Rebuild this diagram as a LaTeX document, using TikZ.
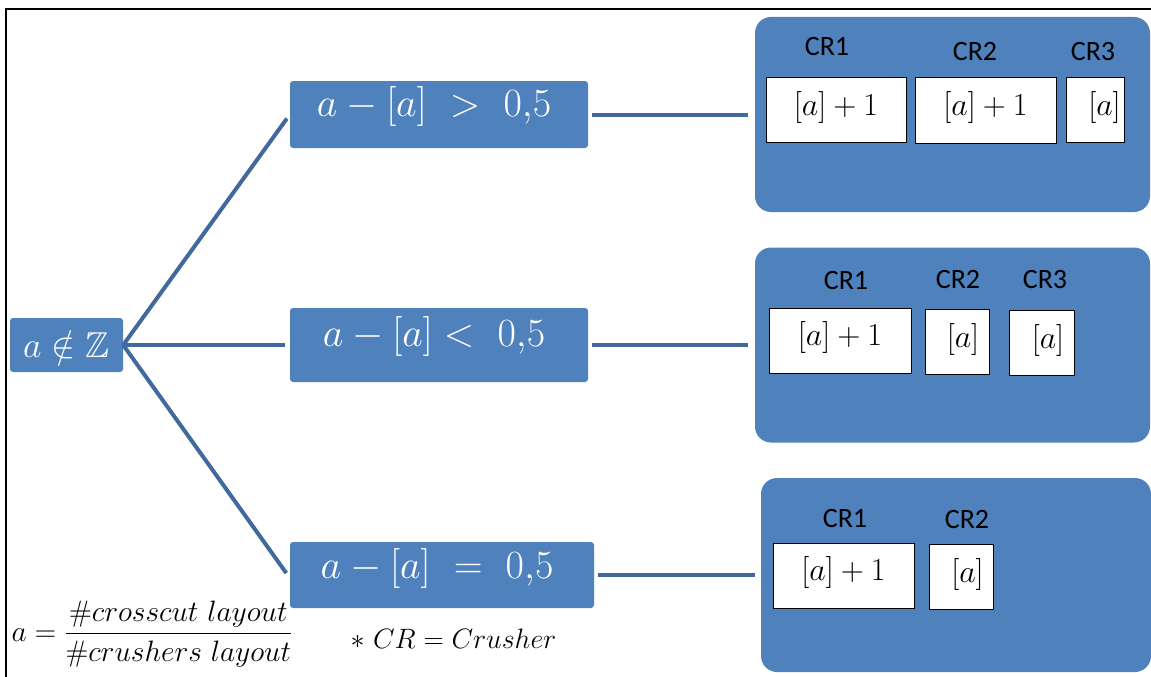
\RequirePackage{fix-cm}
\documentclass[tikz,border=0pt]{standalone}
\usepackage{amssymb}
\usepackage{fontspec}
\newfontfamily\crfont{Carlito}
\definecolor{boxblue}{HTML}{4F81BD}
\definecolor{linkblue}{HTML}{41699D}
\tikzset{
  bluebox/.style={draw=none, fill=boxblue, rounded corners=3pt, inner sep=0pt},
  groupbox/.style={draw=none, fill=boxblue, rounded corners=16pt, inner sep=0pt},
  cellbox/.style={draw=black, line width=1pt, fill=white, inner sep=0pt},
  bigmath/.style={text=white, inner sep=0pt, font=\fontsize{40}{44}\selectfont},
  cellmath/.style={inner sep=0pt, font=\fontsize{32}{36}\selectfont},
  crlabel/.style={inner sep=0pt, font=\crfont\fontsize{28}{32}\selectfont},
  link/.style={draw=linkblue, line width=4pt},
  note/.style={inner sep=0pt, font=\fontsize{29.5}{34}\selectfont}
}
\begin{document}
\begin{tikzpicture}[x=1pt, y=-1pt]
\useasboundingbox (0,0) rectangle (1151,677);
% page frame
\draw[line width=1.5pt] (6,677) -- (6,9) -- (1151,9);

% root condition
\node[bluebox, minimum width=113pt, minimum height=54pt, text=white,
      font=\fontsize{36}{40}\selectfont] (root) at (66.5,345) {$a\notin\mathbb{Z}$};

% three cases
\node[bluebox, minimum width=298pt, minimum height=67pt] (gt) at (439,114.5) {};
\node[bigmath] (gttext) at (434,107) {$a-[a]\ >\ 0{,}5$};
\node[bluebox, minimum width=298pt, minimum height=74pt] (lt) at (439,345) {};
\node[bigmath] (lttext) at (434,336.5) {$a-[a] <\ 0{,}5$};
\node[bluebox, minimum width=304pt, minimum height=66pt] (eq) at (442,575) {};
\node[bigmath] (eqtext) at (437,568.5) {$a-[a]\ =\ 0{,}5$};

% crusher groups
\node[groupbox, minimum width=395pt, minimum height=195pt] (g1) at (952.5,114.5) {};
\node[groupbox, minimum width=395pt, minimum height=195pt] (g2) at (952.5,345) {};
\node[groupbox, minimum width=390pt, minimum height=194pt] (g3) at (956,575) {};

% connectors
\draw[link, shorten >=5pt] (root.east) -- (gt.west);
\draw[link, shorten >=5pt] (root.east) -- (lt.west);
\draw[link, shorten >=6pt] (root.east) -- ([yshift=-3pt]eq.west);
\draw[link, shorten <=4pt, shorten >=7pt] (gt.east) -- (g1.west);
\draw[link, shorten <=4pt, shorten >=7pt] (lt.east) -- (g2.west);
\draw[link, shorten <=4pt, shorten >=6pt] (eq.east) -- (g3.west);

% group 1: a - [a] > 0,5
\node[crlabel] (g1l1) at (827,47) {CR1};
\node[crlabel] (g1l2) at (975,52) {CR2};
\node[crlabel] (g1l3) at (1093,52) {CR3};
\node[cellbox, minimum width=140pt, minimum height=64pt] (g1c1) at (836,110) {};
\node[cellmath] (g1t1) at (836,107.5) {$[a]+1$};
\node[cellbox, minimum width=141pt, minimum height=65pt] (g1c2) at (985.5,110.5) {};
\node[cellmath] (g1t2) at (985.5,107.5) {$[a]+1$};
\node[cellbox, minimum width=58pt, minimum height=64pt] (g1c3) at (1095,110) {};
\node[cellmath] (g1t3) at (1104.5,107.5) {$[a]$};

% group 2: a - [a] < 0,5
\node[crlabel] (g2l1) at (846,281) {CR1};
\node[crlabel] (g2l2) at (958,280) {CR2};
\node[crlabel] (g2l3) at (1045,280) {CR3};
\node[cellbox, minimum width=142pt, minimum height=65pt] (g2c1) at (840,340.5) {};
\node[cellmath] (g2t1) at (840,337.5) {$[a]+1$};
\node[cellbox, minimum width=64pt, minimum height=65pt] (g2c2) at (957,341.5) {};
\node[cellmath] (g2t2) at (963,339) {$[a]$};
\node[cellbox, minimum width=65pt, minimum height=65pt] (g2c3) at (1041.5,342.5) {};
\node[cellmath] (g2t3) at (1048,340) {$[a]$};

% group 3: a - [a] = 0,5
\node[crlabel] (g3l1) at (845,519) {CR1};
\node[crlabel] (g3l2) at (967,520) {CR2};
\node[cellbox, minimum width=141pt, minimum height=65pt] (g3c1) at (843.5,575.5) {};
\node[cellmath] (g3t1) at (843.5,572.5) {$[a]+1$};
\node[cellbox, minimum width=64pt, minimum height=65pt] (g3c2) at (961,576.5) {};
\node[cellmath] (g3t2) at (967.5,574) {$[a]$};

% notes
\node[note] (defa) at (152,634) {$\displaystyle a=\frac{\#crosscut\ layout}{\#crushers\ layout}$};
\node[note, font=\fontsize{28}{32}\selectfont] (defcr) at (453.5,639) {$\ast\ CR=Crusher$};
\end{tikzpicture}
\end{document}
